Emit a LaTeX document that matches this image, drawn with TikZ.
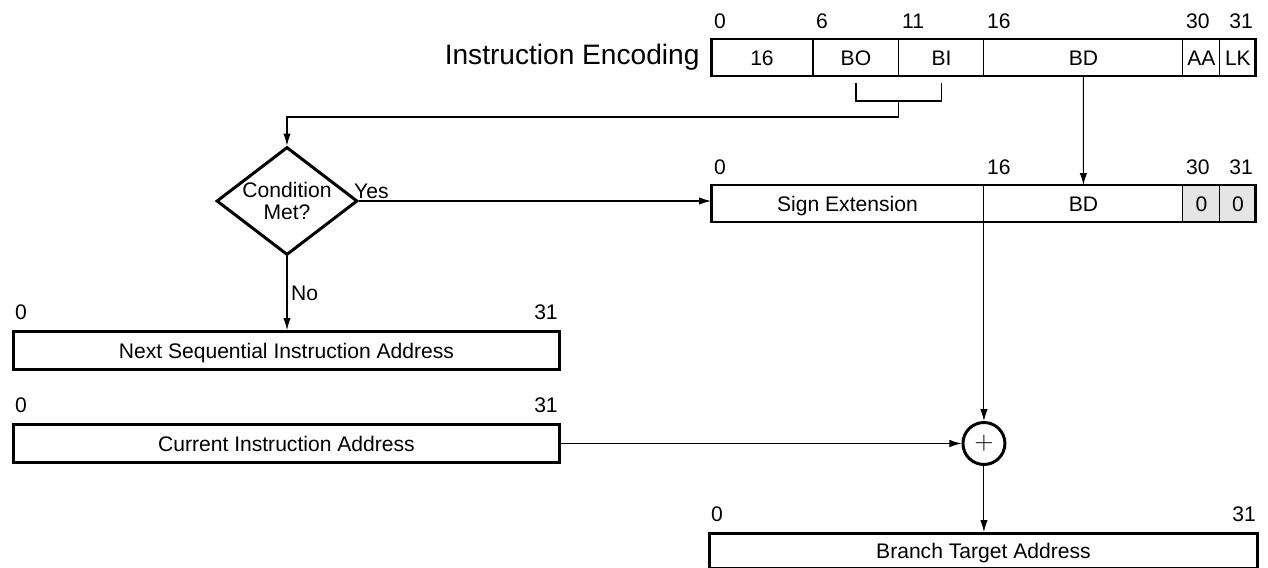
\documentclass[tikz,border=0pt]{standalone}
\usepackage{fontspec}
\setmainfont{Liberation Sans}
\usetikzlibrary{
    arrows.meta,
    positioning,
    shapes.geometric,
}
\tikzstyle{arrow}=[-{Latex[length=2.4mm, width=1.5mm]}]
\tikzset{
    field/.style={draw, line width=0.6pt, minimum height=0.74cm, inner sep=0pt, outer sep=0pt,
                  text height=8.6pt, text depth=0pt},
    frame/.style={line width=1.7pt},
    bitno/.style={inner sep=1.5pt, yshift=4pt},
    addrbox/.style={draw, line width=1.7pt, minimum width=10.92cm, minimum height=0.76cm, inner sep=0pt,
                    text height=8.6pt, text depth=0pt},
}

\begin{document}
\begin{tikzpicture}[x=0.02cm, y=-0.02cm, line width=0.6pt, font=\fontsize{12}{13}\selectfont]
    \useasboundingbox (0,0) rectangle (1268,568);

    \node[field, minimum width=2.04cm, anchor=north west] (enc16) at (711,39) {16};
    \node[field, minimum width=1.72cm, right=0pt of enc16] (encbo) {BO};
    \node[field, minimum width=1.70cm, right=0pt of encbo] (encbi) {BI};
    \node[field, minimum width=3.98cm, right=0pt of encbi] (encbd) {BD};
    \node[field, minimum width=0.74cm, right=0pt of encbd] (encaa) {AA};
    \node[field, minimum width=0.72cm, right=0pt of encaa] (enclk) {LK};
    \draw[frame] (enc16.north west) rectangle (enclk.south east);
    \node[left=0.22cm of enc16, inner sep=0pt, font=\fontsize{16}{19}\selectfont] (enctitle) {Instruction Encoding};
    \node[bitno, anchor=south west] at (enc16.north west) {0};
    \node[bitno, anchor=south west] at (encbo.north west) {6};
    \node[bitno, anchor=south west] at (encbi.north west) {11};
    \node[bitno, anchor=south west] at (encbd.north west) {16};
    \node[bitno, anchor=south west] at (encaa.north west) {30};
    \node[bitno, anchor=south east] at (enclk.north east) {31};

    \node[field, minimum width=5.46cm, anchor=north west] (extsign) at (711,185) {Sign Extension};
    \node[field, minimum width=3.98cm, right=0pt of extsign] (extbd) {BD};
    \node[field, fill=black!10, minimum width=0.74cm, right=0pt of extbd] (ext30) {0};
    \node[field, fill=black!10, minimum width=0.72cm, right=0pt of ext30] (ext31) {0};
    \draw[frame] (extsign.north west) rectangle (ext31.south east);
    \node[bitno, anchor=south west] at (extsign.north west) {0};
    \node[bitno, anchor=south west] at (extbd.north west) {16};
    \node[bitno, anchor=south west] at (ext30.north west) {30};
    \node[bitno, anchor=south east] at (ext31.north east) {31};

    \node[draw, diamond, aspect=1.3, minimum width=2.82cm, minimum height=2.16cm, inner sep=0pt,
          line width=1.7pt, align=center, text height=21.6pt, text depth=-6.4pt] (cond) at (287,201) {Condition\\Met?};

    \node[addrbox, anchor=north west] (nsia) at (12,330) {Next Sequential Instruction Address};
    \node[bitno, anchor=south west] at (nsia.north west) {0};
    \node[bitno, anchor=south east] at (nsia.north east) {31};
    \node[addrbox, anchor=north west] (cia) at (12,423) {Current Instruction Address};
    \node[bitno, anchor=south west] at (cia.north west) {0};
    \node[bitno, anchor=south east] at (cia.north east) {31};

    \node[draw, circle, line width=1.7pt, minimum size=0.84cm, inner sep=0pt, font=\fontsize{14}{14}\selectfont]
        (add) at (extsign.south east |- cia.east) {$+$};

    \node[addrbox, minimum width=10.96cm, minimum height=0.7cm, anchor=north west] (bta) at (708,532) {Branch Target Address};
    \node[bitno, anchor=south west] at (bta.north west) {0};
    \node[bitno, anchor=south east] at (bta.north east) {31};

    \coordinate (bobit) at ([yshift=-0.14cm]encbo.south);
    \coordinate (bibit) at ([yshift=-0.14cm]encbi.south);
    \draw (bobit) -- ++(0,-0.36cm) coordinate (brkl) -| (bibit);
    \draw[arrow] (encbo.south east |- brkl) -- ++(0,-0.32cm) -| (cond.north);
    \draw[arrow] (encbd.south) -- (extbd.north);
    \draw[arrow] (cond.east) -- node[pos=0, anchor=south west, inner sep=1pt, xshift=-4pt] {Yes} (cond.east -| extsign.west);
    \draw[arrow] (cond.south) -- node[midway, right, inner sep=2pt] {No} (cond.south |- nsia.north);
    \draw[arrow] (extsign.south east) -- (add.north);
    \draw[arrow] (cia.east) -- (add.west);
    \draw[arrow] (add.south) -- (add.south |- bta.north);
\end{tikzpicture}
\end{document}
